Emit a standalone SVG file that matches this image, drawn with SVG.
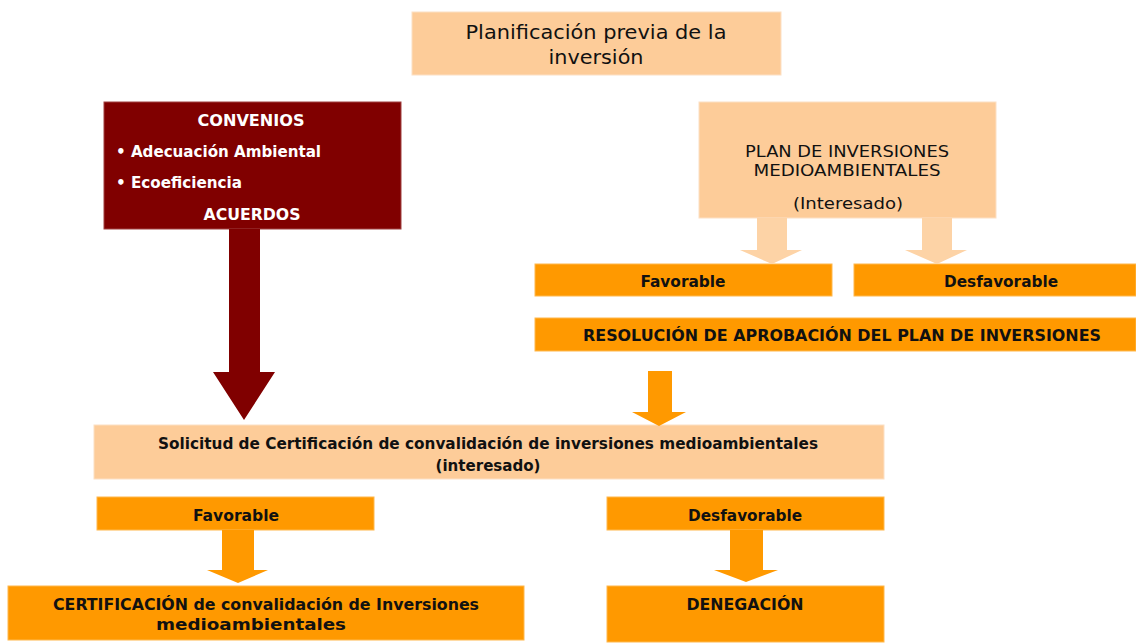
<svg xmlns="http://www.w3.org/2000/svg" width="1136" height="643" viewBox="0 0 1136 643">
<style>
.peach{fill:#FDCC99;stroke:#FCE0C4;stroke-width:1}
.orange{fill:#FF9900;stroke:#FFB84D;stroke-width:1}
.red{fill:#800000;stroke:#A04040;stroke-width:1}
.t{font-family:"DejaVu Sans Condensed","DejaVu Sans","Liberation Sans",sans-serif;font-size:16px;fill:#111;text-anchor:middle}
.b{font-weight:bold}
.w{fill:#fff;font-weight:bold}
.big{font-family:"DejaVu Sans","Liberation Sans",sans-serif;font-size:20px}
.pa{fill:#FDD3A6}
.oa{fill:#FF9900}
.ra{fill:#800000}
</style>
<rect width="1136" height="643" fill="#fff"/>
<g id="planificacion">
<rect class="peach" x="412" y="12" width="369" height="63"/>
<text class="t big" x="596" y="39" textLength="261" lengthAdjust="spacingAndGlyphs">Planificación previa de la</text>
<text class="t big" x="596" y="64" textLength="95" lengthAdjust="spacingAndGlyphs">inversión</text>
</g>
<g id="convenios">
<rect class="red" x="104" y="102" width="297" height="127"/>
<text class="t w" x="251" y="126" textLength="107" lengthAdjust="spacingAndGlyphs">CONVENIOS</text>
<text class="t w" x="116" y="157" style="text-anchor:start" textLength="205" lengthAdjust="spacingAndGlyphs">• Adecuación Ambiental</text>
<text class="t w" x="116" y="188" style="text-anchor:start" textLength="126" lengthAdjust="spacingAndGlyphs">• Ecoeficiencia</text>
<text class="t w" x="252" y="220" textLength="97" lengthAdjust="spacingAndGlyphs">ACUERDOS</text>
</g>
<g id="plan">
<rect class="peach" x="699" y="102" width="297" height="116"/>
<text class="t" x="847" y="157" textLength="204" lengthAdjust="spacingAndGlyphs">PLAN DE INVERSIONES</text>
<text class="t" x="847" y="176" textLength="187" lengthAdjust="spacingAndGlyphs">MEDIOAMBIENTALES</text>
<text class="t" x="848" y="209" textLength="110" lengthAdjust="spacingAndGlyphs">(Interesado)</text>
</g>
<g id="favorable1">
<rect class="orange" x="535" y="264" width="297" height="32"/>
<text class="t b" x="683" y="287" textLength="85" lengthAdjust="spacingAndGlyphs">Favorable</text>
</g>
<g id="desfavorable1">
<rect class="orange" x="854" y="264" width="282" height="32"/>
<text class="t b" x="1001" y="287" textLength="114" lengthAdjust="spacingAndGlyphs">Desfavorable</text>
</g>
<g id="resolucion">
<rect class="orange" x="535" y="318" width="601" height="33"/>
<text class="t b" x="842" y="341" textLength="518" lengthAdjust="spacingAndGlyphs">RESOLUCIÓN DE APROBACIÓN DEL PLAN DE INVERSIONES</text>
</g>
<g id="solicitud">
<rect class="peach" x="94" y="425" width="790" height="54"/>
<text class="t b" x="488" y="449" textLength="660" lengthAdjust="spacingAndGlyphs">Solicitud de Certificación de convalidación de inversiones medioambientales</text>
<text class="t b" x="488" y="471" textLength="105" lengthAdjust="spacingAndGlyphs">(interesado)</text>
</g>
<g id="favorable2">
<rect class="orange" x="97" y="497" width="277" height="33"/>
<text class="t b" x="236" y="521" textLength="86" lengthAdjust="spacingAndGlyphs">Favorable</text>
</g>
<g id="desfavorable2">
<rect class="orange" x="607" y="497" width="277" height="33"/>
<text class="t b" x="745" y="521" textLength="114" lengthAdjust="spacingAndGlyphs">Desfavorable</text>
</g>
<g id="certificacion">
<rect class="orange" x="8" y="586" width="516" height="54"/>
<text class="t b" x="266" y="610" textLength="426" lengthAdjust="spacingAndGlyphs">CERTIFICACIÓN de convalidación de Inversiones</text>
<text class="t b" x="251" y="630" textLength="190" lengthAdjust="spacingAndGlyphs">medioambientales</text>
</g>
<g id="denegacion">
<rect class="orange" x="607" y="586" width="277" height="56"/>
<text class="t b" x="745" y="610" textLength="117" lengthAdjust="spacingAndGlyphs">DENEGACIÓN</text>
</g>
<g id="connectors">
<polygon class="ra" points="229,229 260,229 260,372 275,372 244,420 213,372 229,372"/>
<polygon class="pa" points="757,218 787,218 787,250 802,250 772,264 740,250 757,250"/>
<polygon class="pa" points="922,218 952,218 952,250 967,250 937,264 905,250 922,250"/>
<polygon class="oa" points="648,371 672,371 672,412 686,412 659,426 632,412 648,412"/>
<polygon class="oa" points="222,530 254,530 254,570 268,570 238,583 207,570 222,570"/>
<polygon class="oa" points="730,530 763,530 763,570 778,570 746,582 714,570 730,570"/>
</g>
</svg>
